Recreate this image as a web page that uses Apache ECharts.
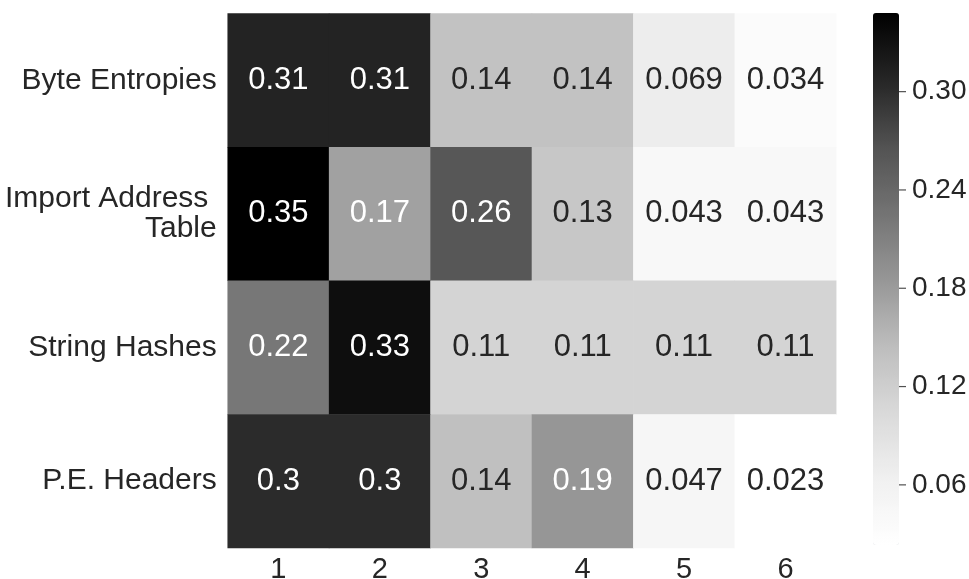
<!DOCTYPE html>
<html>
<head>
<meta charset="utf-8">
<script src="https://cdn.jsdelivr.net/npm/echarts@6/dist/echarts.min.js"></script>
<style>html,body{margin:0;padding:0;background:#fff}#c{width:969px;height:579px}</style>
</head>
<body>
<div id="c"></div>
<script>
var xCategories = ['1', '2', '3', '4', '5', '6'];
var yCategories = ['Byte Entropies', 'Import Address \nTable', 'String Hashes', 'P.E. Headers'];
var byteEntropies = [0.310, 0.310, 0.138, 0.138, 0.069, 0.0344];
var importAddressTable = [0.348, 0.174, 0.261, 0.130, 0.0434, 0.0434];
var stringHashes = [0.222, 0.333, 0.111, 0.111, 0.111, 0.111];
var peHeaders = [0.302, 0.302, 0.140, 0.186, 0.0466, 0.0233];
var colorbarTicks = [0.06, 0.12, 0.18, 0.24, 0.30];
var greys = ['#ffffff', '#f0f0f0', '#d9d9d9', '#bdbdbd', '#969696', '#737373', '#525252', '#252525', '#000000'];

var rows = [byteEntropies, importAddressTable, stringHashes, peHeaders];
var vmin = Infinity, vmax = -Infinity;
var data = [];
rows.forEach(function (row, yi) {
  row.forEach(function (v, xi) {
    vmin = Math.min(vmin, v); vmax = Math.max(vmax, v);
    data.push({ value: [xi, yi, v], label: { color: v > 0.155 ? '#ffffff' : '#262626' } });
  });
});
var tickMarks = colorbarTicks.map(function (t) { return [1, t]; });

var FONT = '"Liberation Sans", Arial, sans-serif';
var TXT = '#262626';
var chart = echarts.init(document.getElementById('c'));
chart.setOption({
  animation: false,
  backgroundColor: '#ffffff',
  grid: [
    { left: 227.7, top: 13.5, width: 608.5, height: 534.5, outerBoundsMode: 'none', containLabel: false },
    { left: 873, top: 13, width: 26, height: 532, outerBoundsMode: 'none', containLabel: false }
  ],
  xAxis: [
    { gridIndex: 0, type: 'category', data: xCategories, position: 'bottom',
      axisLine: { show: false }, axisTick: { show: false }, splitLine: { show: false },
      axisLabel: { fontSize: 29, fontFamily: FONT, color: TXT, margin: 7 } },
    { gridIndex: 1, type: 'value', show: false, min: 0, max: 1 }
  ],
  yAxis: [
    { gridIndex: 0, type: 'category', data: yCategories, inverse: true,
      axisLine: { show: false }, axisTick: { show: false }, splitLine: { show: false },
      axisLabel: { fontSize: 30, fontFamily: FONT, color: TXT, margin: 11, lineHeight: 30, align: 'right' } },
    { gridIndex: 1, type: 'value', position: 'right', min: vmin, max: vmax,
      axisLine: { show: false }, splitLine: { show: false },
      axisTick: { show: false },
      axisLabel: { fontSize: 28, fontFamily: FONT, color: TXT, margin: 13, customValues: colorbarTicks,
        formatter: function (v) { return v.toFixed(2); } } }
  ],
  visualMap: {
    type: 'continuous', min: vmin, max: vmax, calculable: false, seriesIndex: 0,
    orient: 'vertical', left: 873, top: 13, itemWidth: 26, itemHeight: 532, padding: 0,
    text: null, showLabel: false, hoverLink: false,
    inRange: { color: greys }
  },
  series: [{
    type: 'heatmap', xAxisIndex: 0, yAxisIndex: 0, data: data,
    itemStyle: { borderWidth: 0 },
    emphasis: { disabled: true },
    label: { show: true, fontSize: 31, fontFamily: FONT,
      formatter: function (p) { return String(Number(p.value[2].toPrecision(2))); } }
  }, {
    type: 'scatter', xAxisIndex: 1, yAxisIndex: 1, data: tickMarks, clip: false, silent: true,
    symbol: 'rect', symbolSize: [7, 1.2], symbolOffset: [3.5, 0],
    itemStyle: { color: TXT }, z: 5
  }]
});
</script>
</body>
</html>
